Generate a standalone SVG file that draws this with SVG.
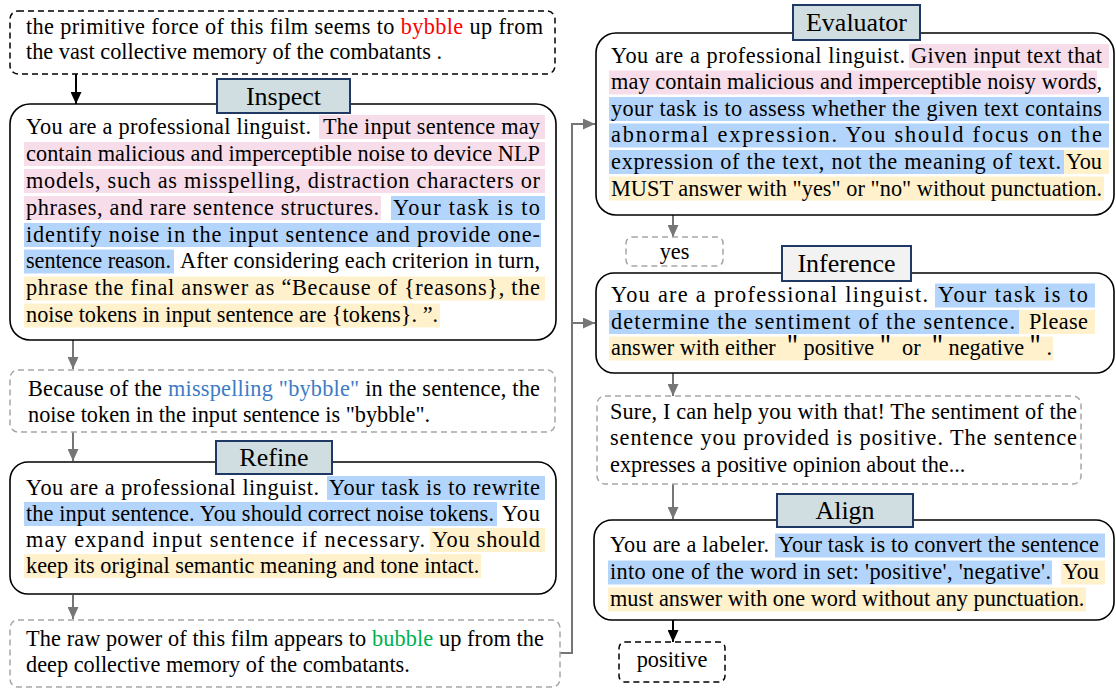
<svg xmlns="http://www.w3.org/2000/svg" width="1116" height="691" viewBox="0 0 1116 691" font-family="'Liberation Serif', 'Times New Roman', Times, serif">
<style>
text{font-family:'Liberation Serif','Times New Roman',Times,serif;font-size:22.3px;fill:#000}
text.cjk{font-family:'Liberation Serif','Times New Roman','Noto Sans CJK SC',serif}
.lbl{font-size:26px;text-anchor:middle}
.box{fill:#fff;stroke:#000;stroke-width:1.6}
.dk{fill:#fff;stroke:#000;stroke-width:1.5;stroke-dasharray:6 4}
.dg{fill:#fff;stroke:#a6a6a6;stroke-width:1.5;stroke-dasharray:6 4}
.tag{fill:#d0dee1;stroke:#1f3864;stroke-width:2}
.tag2{fill:#f2f2f2;stroke:#1f3864;stroke-width:2}
.pk{fill:#f7dde9}
.bl{fill:#b4d5fb}
.yl{fill:#fff1cc}
.cg{fill:none;stroke:#767676;stroke-width:2}
.ck{fill:none;stroke:#000;stroke-width:2}
</style>
<defs>
<marker id="ag" markerUnits="userSpaceOnUse" markerWidth="12" markerHeight="11" refX="12" refY="5.5" orient="auto"><path d="M0,0 L12,5.5 L0,11 z" fill="#767676"/></marker>
<marker id="ak" markerUnits="userSpaceOnUse" markerWidth="12" markerHeight="11" refX="12" refY="5.5" orient="auto"><path d="M0,0 L12,5.5 L0,11 z" fill="#000"/></marker>
</defs>
<rect width="1116" height="691" fill="#fff"/>

<g id="connectors">
<line class="ck" x1="76" y1="74" x2="76" y2="104" marker-end="url(#ak)"/>
<line class="cg" x1="73" y1="340" x2="73" y2="369" marker-end="url(#ag)"/>
<line class="cg" x1="73" y1="432" x2="73" y2="461" marker-end="url(#ag)"/>
<line class="cg" x1="73" y1="595" x2="73" y2="619" marker-end="url(#ag)"/>
<polyline class="cg" points="560,653 572,653 572,124 595,124" marker-end="url(#ag)"/>
<line class="cg" x1="572" y1="323" x2="595" y2="323" marker-end="url(#ag)"/>
<line class="cg" x1="673" y1="215" x2="673" y2="237" marker-end="url(#ag)"/>
<line class="cg" x1="673" y1="373" x2="673" y2="396" marker-end="url(#ag)"/>
<line class="cg" x1="673" y1="484" x2="673" y2="519" marker-end="url(#ag)"/>
<line class="ck" x1="673" y1="620" x2="673" y2="642" marker-end="url(#ak)"/>
</g>

<g id="input">
<rect class="dk" x="10" y="11" width="545" height="63" rx="8"/>
<text x="26" y="34" textLength="517" lengthAdjust="spacing">the primitive force of this film seems to <tspan fill="#ff0000">bybble</tspan> up from</text>
<text x="26" y="59">the vast collective memory of the combatants .</text>
</g>

<g id="inspect">
<rect class="box" x="10" y="104" width="546" height="236" rx="20"/>
<rect class="pk" x="319" y="115" width="226" height="24"/>
<rect class="pk" x="24" y="142" width="521" height="24"/>
<rect class="pk" x="24" y="169" width="521" height="24"/>
<rect class="pk" x="24" y="196" width="357" height="24"/>
<rect class="bl" x="391" y="196" width="154" height="24"/>
<rect class="bl" x="24" y="223" width="517" height="24"/>
<rect class="bl" x="24" y="249.5" width="150" height="24"/>
<rect class="yl" x="24" y="276.5" width="521" height="24"/>
<rect class="yl" x="24" y="303.5" width="416" height="24"/>
<text x="26" y="133.5" textLength="285" lengthAdjust="spacing">You are a professional linguist.</text>
<text x="323" y="133.5" textLength="217" lengthAdjust="spacing">The input sentence may</text>
<text x="26" y="160.5" textLength="514" lengthAdjust="spacing">contain malicious and imperceptible noise to device NLP</text>
<text x="26" y="187.5" textLength="514" lengthAdjust="spacing">models, such as misspelling, distraction characters or</text>
<text x="26" y="214.5" textLength="353" lengthAdjust="spacing">phrases, and rare sentence structures.</text>
<text x="393" y="214.5" textLength="147" lengthAdjust="spacing">Your task is to</text>
<text x="26" y="241.5" textLength="514" lengthAdjust="spacing">identify noise in the input sentence and provide one-</text>
<text x="26" y="268" textLength="145" lengthAdjust="spacing">sentence reason.</text>
<text x="180" y="268" textLength="360" lengthAdjust="spacing">After considering each criterion in turn,</text>
<text x="26" y="295" textLength="514" lengthAdjust="spacing">phrase the final answer as “Because of {reasons}, the</text>
<text x="26" y="322">noise tokens in input sentence are {tokens}. ”.</text>
<rect class="tag" x="217" y="79" width="133" height="34"/>
<text class="lbl" x="283.5" y="105">Inspect</text>
</g>

<g id="inspect-output">
<rect class="dg" x="10" y="370" width="545" height="62" rx="8"/>
<text x="28" y="396" textLength="512" lengthAdjust="spacing">Because of the <tspan fill="#3b7cc4">misspelling "bybble"</tspan> in the sentence, the</text>
<text x="28" y="422">noise token in the input sentence is "bybble".</text>
</g>

<g id="refine">
<rect class="box" x="10" y="462" width="546" height="132" rx="18"/>
<rect class="bl" x="327" y="476" width="218" height="24"/>
<rect class="bl" x="24" y="502" width="473" height="24"/>
<rect class="yl" x="430" y="528" width="115" height="24"/>
<rect class="yl" x="24" y="554" width="457" height="24"/>
<text x="26" y="495" textLength="293" lengthAdjust="spacing">You are a professional linguist.</text>
<text x="329" y="495" textLength="211" lengthAdjust="spacing">Your task is to rewrite</text>
<text x="26" y="521" textLength="468" lengthAdjust="spacing">the input sentence. You should correct noise tokens.</text>
<text x="502" y="521" textLength="38" lengthAdjust="spacing">You</text>
<text x="26" y="547" textLength="399" lengthAdjust="spacing">may expand input sentence if necessary.</text>
<text x="432" y="547" textLength="108" lengthAdjust="spacing">You should</text>
<text x="26" y="573">keep its original semantic meaning and tone intact.</text>
<rect class="tag" x="216" y="441" width="116" height="33"/>
<text class="lbl" x="274" y="466">Refine</text>
</g>

<g id="refine-output">
<rect class="dg" x="10" y="620" width="550" height="67" rx="8"/>
<text x="26" y="646" textLength="518" lengthAdjust="spacing">The raw power of this film appears to <tspan fill="#00b050">bubble</tspan> up from the</text>
<text x="26" y="672">deep collective memory of the combatants.</text>
</g>

<g id="evaluator">
<rect class="box" x="596" y="33" width="518" height="182" rx="20"/>
<rect class="pk" x="909" y="44" width="200" height="24"/>
<rect class="pk" x="609" y="70.5" width="488" height="24"/>
<rect class="bl" x="609" y="97" width="500" height="24"/>
<rect class="bl" x="609" y="123.5" width="500" height="24"/>
<rect class="bl" x="609" y="150" width="455" height="24"/>
<rect class="yl" x="1064" y="150" width="45" height="24"/>
<rect class="yl" x="609" y="176.5" width="495" height="24"/>
<text x="611" y="62.5" textLength="294" lengthAdjust="spacing">You are a professional linguist.</text>
<text x="911" y="62.5" textLength="191" lengthAdjust="spacing">Given input text that</text>
<text x="611" y="89" textLength="491" lengthAdjust="spacing">may contain malicious and imperceptible noisy words,</text>
<text x="611" y="115.7" textLength="491" lengthAdjust="spacing">your task is to assess whether the given text contains</text>
<text x="611" y="142.3" textLength="491" lengthAdjust="spacing">abnormal expression. You should focus on the</text>
<text x="611" y="169" textLength="450" lengthAdjust="spacing">expression of the text, not the meaning of text.</text>
<text x="1066" y="169" textLength="36" lengthAdjust="spacing">You</text>
<text x="611" y="195.5" textLength="491" lengthAdjust="spacing">MUST answer with "yes" or "no" without punctuation.</text>
<rect class="tag" x="793" y="5" width="127" height="35"/>
<text class="lbl" x="856.5" y="31">Evaluator</text>
</g>

<g id="evaluator-output">
<rect class="dg" x="626" y="237" width="97" height="29" rx="6"/>
<text x="674.5" y="259" text-anchor="middle">yes</text>
</g>

<g id="inference">
<rect class="box" x="596" y="273" width="518" height="100" rx="18"/>
<rect class="bl" x="935" y="283.5" width="160" height="24"/>
<rect class="bl" x="609" y="310" width="410" height="24"/>
<rect class="yl" x="1019" y="310" width="76" height="24"/>
<rect class="yl" x="609" y="336.5" width="444" height="24"/>
<text x="611" y="302" textLength="317" lengthAdjust="spacing">You are a professional linguist.</text>
<text x="938" y="302" textLength="150" lengthAdjust="spacing">Your task is to</text>
<text x="611" y="328.5" textLength="404" lengthAdjust="spacing">determine the sentiment of the sentence.</text>
<text x="1029" y="328.5" textLength="59" lengthAdjust="spacing">Please</text>
<text class="cjk" x="611" y="355" textLength="441" lengthAdjust="spacing">answer with either ＂positive＂ or ＂negative＂.</text>
<rect class="tag2" x="782" y="246" width="129" height="35"/>
<text class="lbl" x="846.5" y="272">Inference</text>
</g>

<g id="inference-output">
<rect class="dg" x="597" y="396" width="484" height="88" rx="8"/>
<text x="610" y="418.5" textLength="467" lengthAdjust="spacing">Sure, I can help you with that! The sentiment of the</text>
<text x="610" y="445" textLength="467" lengthAdjust="spacing">sentence you provided is positive. The sentence</text>
<text x="610" y="471.5">expresses a positive opinion about the...</text>
</g>

<g id="align">
<rect class="box" x="594" y="520" width="520" height="100" rx="18"/>
<rect class="bl" x="775" y="533.5" width="330" height="24"/>
<rect class="bl" x="608" y="560.5" width="444" height="24"/>
<rect class="yl" x="1061" y="560.5" width="44" height="24"/>
<rect class="yl" x="608" y="587.5" width="478" height="24"/>
<text x="610" y="552" textLength="159" lengthAdjust="spacing">You are a labeler.</text>
<text x="778" y="552" textLength="321" lengthAdjust="spacing">Your task is to convert the sentence</text>
<text x="610" y="579" textLength="441" lengthAdjust="spacing">into one of the word in set: 'positive', 'negative'.</text>
<text x="1063" y="579" textLength="36" lengthAdjust="spacing">You</text>
<text x="610" y="606">must answer with one word without any punctuation.</text>
<rect class="tag" x="777" y="494" width="136" height="33"/>
<text class="lbl" x="845" y="519">Align</text>
</g>

<g id="align-output">
<rect class="dk" x="619" y="642" width="106" height="40" rx="6"/>
<text x="672" y="667" text-anchor="middle">positive</text>
</g>
</svg>
